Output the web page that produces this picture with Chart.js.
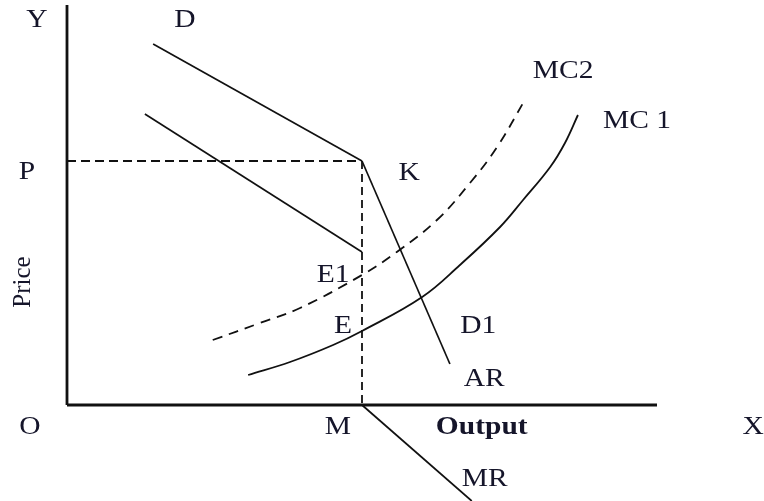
<!DOCTYPE html>
<html>
<head>
<meta charset="utf-8">
<script src="https://cdn.jsdelivr.net/npm/chart.js@4.4.1/dist/chart.umd.min.js"></script>
<style>
  html, body { margin: 0; padding: 0; background: #fff; }
  #wrap { width: 764px; height: 501px; }
</style>
</head>
<body>
<div id="wrap"><canvas id="kinkChart"></canvas></div>
<script>
// axes (output on x, price on y)
const axisY = [[0, 0], [0, 100]];
const axisX = [[0, 0], [100, 0]];

// demand: upper elastic part D-K, lower part K-AR
const demandUpper = [[14.6, 90.25], [50, 61]];
const demandLower = [[50, 61], [64.9, 10.25]];

// marginal revenue with the gap at M
const mrUpper = [[13.2, 72.75], [50, 38.25]];
const mrLower = [[50, 0], [68.6, -24]];

// guide lines from K to P and M
const priceGuide = [[0, 61], [50, 61]];
const outputGuide = [[50, 61], [50, 0]];

// cost curves
const mc2 = [[24.7, 16.25], [32.7, 20.5], [39.5, 24.25], [50, 32.5], [55.9, 38.25],
             [62.7, 46.25], [68.3, 55.5], [72.9, 64.5], [77.6, 76.25]];
const mc1 = [[30.7, 7.5], [37.8, 10.75], [45.1, 15], [50, 18.5], [60.2, 27], [66.6, 35],
             [73.4, 44.5], [77.3, 51.25], [81.9, 59.5], [84.4, 65.5], [86.6, 72.5]];

// text labels and where they sit
const labelText = ['Y', 'D', 'P', 'K', 'MC2', 'MC 1', 'E1', 'E', 'D1', 'AR', 'O', 'M', 'Output', 'X', 'MR'];
const labelX = [-5.1, 20, -6.8, 58, 84.1, 96.6, 45.1, 46.8, 69.7, 70.7, -6.3, 45.9, 70.3, 116.3, 70.8];
const labelY = [96.75, 96.75, 58.75, 58.5, 84, 71.5, 33, 20.25, 20.25, 7, -5, -5, -5, -5, -18];
const axisTitle = 'Price';
const axisTitlePos = [-7.6, 30.75];

const toPts = arr => arr.map(p => ({ x: p[0], y: p[1] }));

function seg(data, width, dash, curved) {
    return {
        data: toPts(data),
        borderColor: '#111',
        borderWidth: width,
        borderDash: dash || [],
        pointRadius: 0,
        showLine: true,
        fill: false,
        clip: false,
        tension: curved ? 0.4 : 0
    };
}

const labelPlugin = {
    id: 'labels',
    afterDatasetsDraw(chart) {
        const ctx = chart.ctx;
        const xs = chart.scales.x;
        const ys = chart.scales.y;
        ctx.save();
        ctx.fillStyle = '#15152a';
        ctx.textAlign = 'center';
        ctx.textBaseline = 'alphabetic';
        labelText.forEach((t, i) => {
            const px = xs.getPixelForValue(labelX[i]);
            const py = ys.getPixelForValue(labelY[i]);
            ctx.save();
            ctx.translate(px, py + 9);
            ctx.scale(1.18, 1);
            ctx.font = (t === 'Output' ? 'bold ' : '') + '25px "Liberation Serif", "Times New Roman", serif';
            ctx.fillText(t, 0, 0);
            ctx.restore();
        });
        // rotated y axis title
        const tx = xs.getPixelForValue(axisTitlePos[0]);
        const ty = ys.getPixelForValue(axisTitlePos[1]);
        ctx.save();
        ctx.translate(tx + 8, ty);
        ctx.rotate(-Math.PI / 2);
        ctx.font = '25px "Liberation Serif", "Times New Roman", serif';
        ctx.fillText(axisTitle, 0, 0);
        ctx.restore();
        ctx.restore();
    }
};

new Chart(document.getElementById('kinkChart').getContext('2d'), {
    type: 'scatter',
    data: {
        datasets: [
            seg(axisY, 2.8),
            seg(axisX, 2.8),
            seg(priceGuide, 2, [9, 5]),
            seg(outputGuide, 1.8, [8, 5]),
            seg(demandUpper, 1.7),
            seg(demandLower, 1.7),
            seg(mrUpper, 1.7),
            seg(mrLower, 1.7),
            seg(mc2, 1.8, [10, 7], true),
            seg(mc1, 1.8, [], true)
        ]
    },
    options: {
        responsive: true,
        maintainAspectRatio: false,
        animation: false,
        layout: { padding: { left: 67, right: 107, top: 5, bottom: 0 } },
        plugins: { legend: { display: false }, tooltip: { enabled: false } },
        scales: {
            x: { type: 'linear', min: 0, max: 100, display: false },
            y: { type: 'linear', min: -24, max: 100, display: false }
        }
    },
    plugins: [labelPlugin]
});
</script>
</body>
</html>
